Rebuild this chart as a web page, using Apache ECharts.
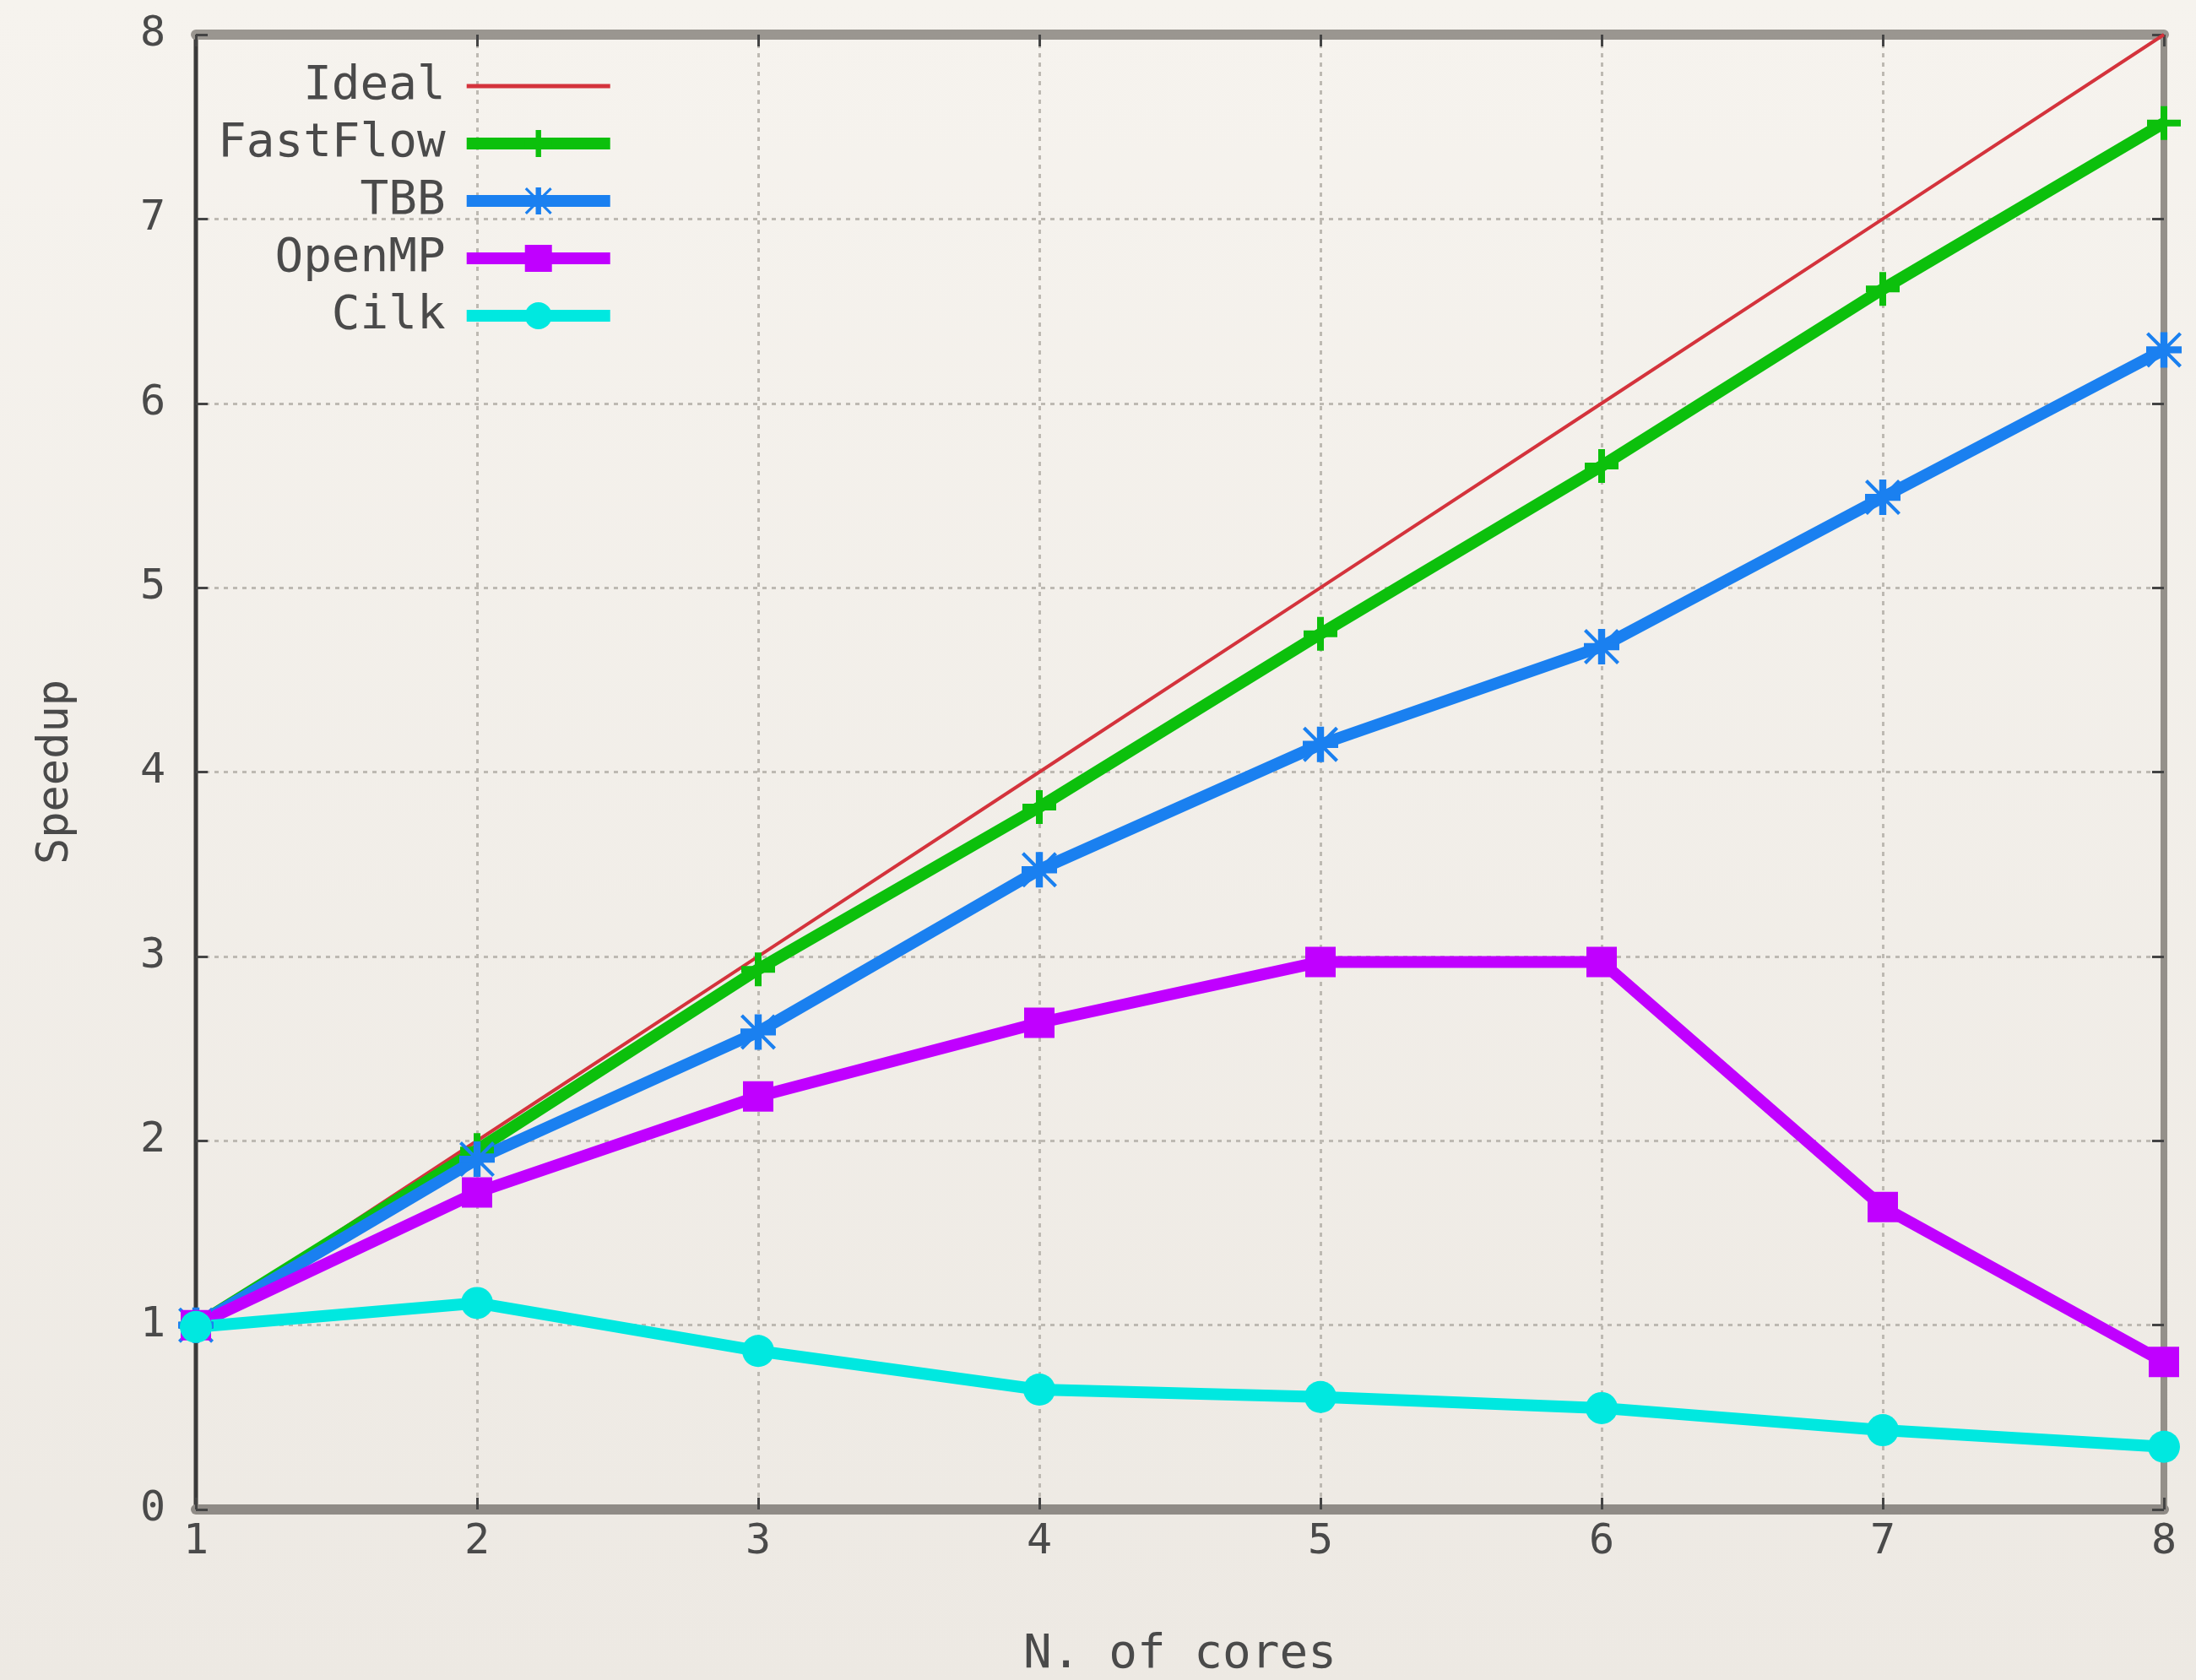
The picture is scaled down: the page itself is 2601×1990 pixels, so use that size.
<!DOCTYPE html>
<html>
<head>
<meta charset="utf-8">
<script src="https://cdn.jsdelivr.net/npm/echarts@6/dist/echarts.min.js"></script>
<style>
  html, body { margin: 0; padding: 0; background: #f4f1eb; }
  #chart { width: 2601px; height: 1990px; }
</style>
</head>
<body>
<div id="chart"></div>
<script>
// speedup per number of cores
const cores = [1, 2, 3, 4, 5, 6, 7, 8];
const ideal = [1, 2, 3, 4, 5, 6, 7, 8];
const fastflow = [1, 1.95, 2.93, 3.81, 4.75, 5.66, 6.62, 7.52];
const tbb = [1, 1.9, 2.59, 3.47, 4.15, 4.68, 5.49, 6.29];
const openmp = [1, 1.72, 2.24, 2.64, 2.97, 2.97, 1.64, 0.8];
const cilk = [0.99, 1.12, 0.86, 0.65, 0.61, 0.55, 0.43, 0.34];

const plusPath = 'path://M4,0L6,0L6,10L4,10ZM0,4L10,4L10,6L0,6Z';
const starPath = 'path://M4,0L6,0L6,10L4,10ZM0,4L10,4L10,6L0,6ZM0.7,0L10,9.3L9.3,10L0,0.7ZM9.3,0L10,0.7L0.7,10L0,9.3Z';

const font = 'DejaVu Sans Mono';
const textColor = '#4a4a4a';
const gridLine = { show: true, lineStyle: { color: '#bdb9b2', width: 3, type: [5, 6] } };
const tick = { show: true, inside: true, length: 14, lineStyle: { color: '#444', width: 3 } };

const pairs = (ys) => cores.map((c, i) => [c, ys[i]]);

function lineSeries(name, ys, color, width, symbol, size) {
  return {
    name: name,
    type: 'line',
    data: pairs(ys),
    symbol: symbol,
    symbolSize: size,
    showSymbol: symbol !== 'none',
    lineStyle: { color: color, width: width },
    itemStyle: { color: color },
    emphasis: { disabled: true },
    animation: false,
  };
}

const chart = echarts.init(document.getElementById('chart'));
chart.setOption({
  backgroundColor: {
    type: 'linear', x: 0, y: 0, x2: 0, y2: 1,
    colorStops: [{ offset: 0, color: '#f6f3ee' }, { offset: 1, color: '#ede9e3' }],
  },
  animation: false,
  grid: {
    left: 232, right: 38, top: 41, bottom: 202,
    outerBoundsMode: 'none',
    show: true, borderColor: '#94908a', borderWidth: 6,
  },
  legend: {
    orient: 'vertical',
    align: 'right',
    left: 258,
    top: 74,
    padding: 0,
    itemWidth: 170,
    itemHeight: 40,
    itemGap: 12,
    lineStyle: { width: 14 },
    textStyle: { fontFamily: font, fontSize: 56, color: textColor, padding: [0, 20, 0, 0] },
    data: [
      { name: 'Ideal', lineStyle: { width: 5 }, itemStyle: { opacity: 0 } },
      'FastFlow', 'TBB', 'OpenMP', 'Cilk',
    ],
  },
  xAxis: [{
    type: 'value',
    min: 1, max: 8, interval: 1,
    name: 'N. of cores',
    nameLocation: 'middle',
    nameGap: 144,
    nameTextStyle: { fontFamily: font, fontSize: 56, color: textColor },
    axisLine: { show: true, onZero: false, lineStyle: { color: '#8f8b86', width: 12 } },
    axisTick: tick,
    axisLabel: { fontFamily: font, fontSize: 50, color: textColor, margin: 14 },
    splitLine: gridLine,
  }, {
    type: 'value',
    position: 'top',
    min: 1, max: 8, interval: 1,
    axisLine: { show: true, onZero: false, lineStyle: { color: '#9a9690', width: 12 } },
    axisTick: tick,
    axisLabel: { show: false },
    splitLine: { show: false },
  }],
  yAxis: [{
    type: 'value',
    min: 0, max: 8, interval: 1,
    name: 'Speedup',
    nameLocation: 'middle',
    nameGap: 140,
    nameTextStyle: { fontFamily: font, fontSize: 52, color: textColor },
    axisLine: { show: true, onZero: false, lineStyle: { color: '#3a3a3a', width: 4 } },
    axisTick: tick,
    axisLabel: { fontFamily: font, fontSize: 50, color: textColor, margin: 36 },
    splitLine: gridLine,
  }, {
    type: 'value',
    position: 'right',
    min: 0, max: 8, interval: 1,
    axisLine: { show: true, onZero: false, lineStyle: { color: '#94908a', width: 8 } },
    axisTick: tick,
    axisLabel: { show: false },
    splitLine: { show: false },
  }],
  series: [
    lineSeries('Ideal', ideal, '#d4333c', 4, 'none', 0),
    lineSeries('FastFlow', fastflow, '#0cc00c', 14, plusPath, 40),
    lineSeries('TBB', tbb, '#1a80f0', 14, starPath, 42),
    lineSeries('OpenMP', openmp, '#c000ff', 14, 'rect', 36),
    lineSeries('Cilk', cilk, '#00e8e0', 14, 'circle', 38),
  ],
});
</script>
</body>
</html>
